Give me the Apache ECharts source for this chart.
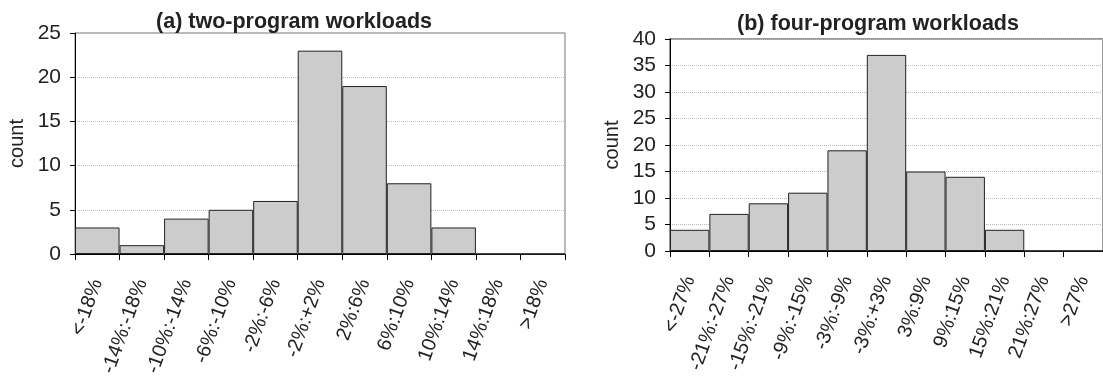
<!DOCTYPE html>
<html>
<head>
<meta charset="utf-8">
<script src="https://cdn.jsdelivr.net/npm/echarts@6/dist/echarts.min.js"></script>
<style>
html,body{margin:0;padding:0;background:#fff;}
#chart{width:1103px;height:381px;}
</style>
</head>
<body>
<div id="chart"></div>
<script>
const titleA = '(a) two-program workloads';
const titleB = '(b) four-program workloads';
const categoriesA = ['<-18%','-14%:-18%','-10%:-14%','-6%:-10%','-2%:-6%','-2%:+2%','2%:6%','6%:10%','10%:14%','14%:18%','>18%'];
const valuesA = [3,1,4,5,6,23,19,8,3,0,0];
const categoriesB = ['<-27%','-21%:-27%','-15%:-21%','-9%:-15%','-3%:-9%','-3%:+3%','3%:9%','9%:15%','15%:21%','21%:27%','>27%'];
const valuesB = [4,7,9,11,19,37,15,14,4,0,0];
const yTicksA = {min:0, max:25, interval:5};
const yTicksB = {min:0, max:40, interval:5};

const FONT = "'Liberation Sans', Arial, sans-serif";
const chart = echarts.init(document.getElementById('chart'), null, {renderer:'canvas'});

function xAxis(gridIndex, cats){
  return {
    type:'category', gridIndex, data:cats, boundaryGap:true,
    axisLine:{show:true, lineStyle:{color:'#000', width:1}},
    axisTick:{show:true, length:6, lineStyle:{color:'#000'}},
    axisLabel:{interval:0, rotate:70, margin:26, fontSize:20, color:'#222', fontFamily:FONT},
    splitLine:{show:false}
  };
}
function yAxis(gridIndex, t, gap){
  return {
    type:'value', gridIndex, min:t.min, max:t.max, interval:t.interval,
    name:'count', nameLocation:'middle', nameGap:gap, nameRotate:90,
    nameTextStyle:{fontSize:20, color:'#222', fontFamily:FONT},
    axisLine:{show:true, lineStyle:{color:'#000', width:1}},
    axisTick:{show:true, length:5, lineStyle:{color:'#000'}},
    axisLabel:{fontSize:21, color:'#222', margin:14, fontFamily:FONT},
    splitLine:{show:true, lineStyle:{color:'#bbb', type:'dotted', width:1}}
  };
}
const barStyle = {color:'#cccccc', borderColor:'#222', borderWidth:1};

chart.setOption({
  animation:false,
  backgroundColor:'#fff',
  title:[
    {text:titleA, left:289, top:6, textAlign:'center',
     textStyle:{fontSize:21.5, fontWeight:'bold', color:'#222', fontFamily:FONT}},
    {text:titleB, left:873, top:8, textAlign:'center',
     textStyle:{fontSize:21.5, fontWeight:'bold', color:'#222', fontFamily:FONT}}
  ],
  grid:[
    {left:75, top:33, width:490, height:221, show:true, borderColor:'#777', borderWidth:1, containLabel:false},
    {left:670, top:39, width:440, height:212, show:true, borderColor:'#777', borderWidth:1.5, containLabel:false}
  ],
  xAxis:[xAxis(0, categoriesA), xAxis(1, categoriesB)],
  yAxis:[yAxis(0, yTicksA, 48), yAxis(1, yTicksB, 48)],
  series:[
    {type:'bar', xAxisIndex:0, yAxisIndex:0, data:valuesA, barCategoryGap:'0%', itemStyle:barStyle},
    {type:'bar', xAxisIndex:1, yAxisIndex:1, data:valuesB, barCategoryGap:'0%', itemStyle:barStyle}
  ]
});
</script>
</body>
</html>
